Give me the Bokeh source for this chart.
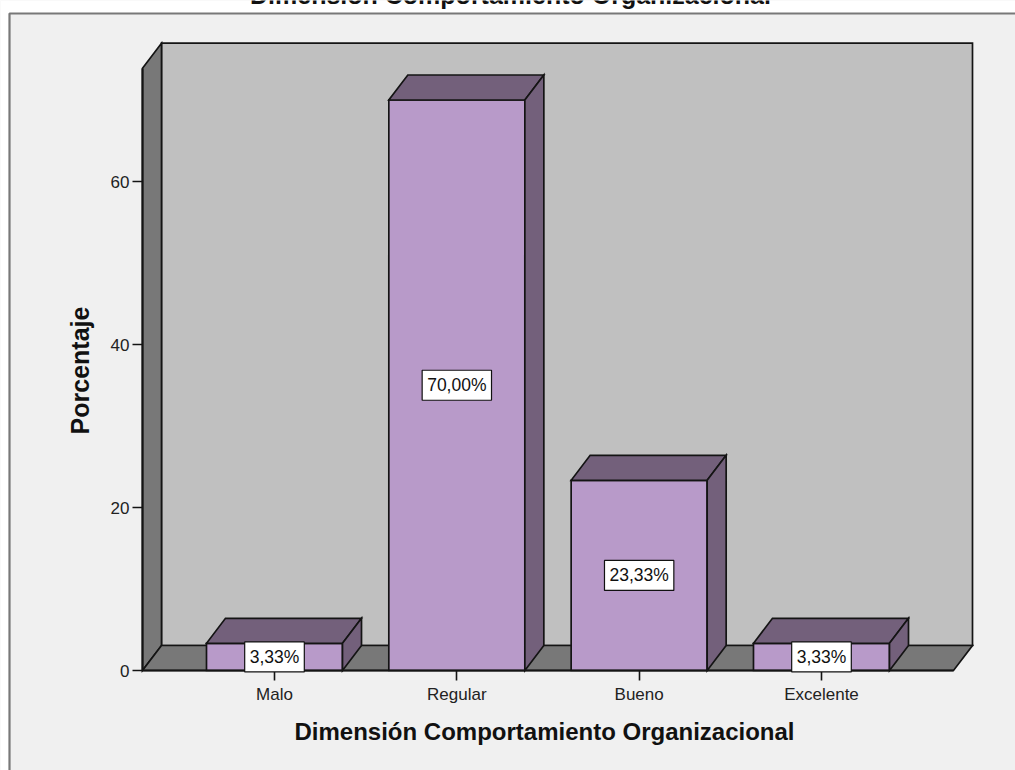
import math
from bokeh.plotting import figure
from bokeh.models import FixedTicker, Label
from bokeh.core.properties import value
from bokeh.embed import file_html
from bokeh.resources import INLINE

# ---- data ----
categories = ["Malo", "Regular", "Bueno", "Excelente"]
percentages = [3.33, 70.00, 23.33, 3.33]
value_labels = ["3,33%", "70,00%", "23,33%", "3,33%"]
y_ticks = [0, 20, 40, 60]
chart_title = "Dimensión Comportamiento Organizacional"
x_title = "Dimensión Comportamiento Organizacional"
y_title = "Porcentaje"

# ---- layout constants (pixels) ----
W, H = 1015, 770
SX = 182.33                            # px per category step
C0 = 274                               # px of first category centre
SY = 8.15                              # px per percent
ZERO_PX = 670                          # px of the 0 baseline
PAD = 0.724                            # floor extends beyond first/last category
WALL_TOP = 73.9                        # axis maximum (front edge of walls)
BAR_W = 0.746
DX = 19 / SX                           # depth offset in data units
DY = 25 / SY


def px_x(px):
    return (px - C0) / SX


def px_y(py):
    return (ZERO_PX - py) / SY


X0, X1 = px_x(0), px_x(W)
Y0, Y1 = px_y(H), px_y(0)

FONT = "Liberation Sans"
FRONT = "#b89ac9"
DARK = "#73607b"
WALL_BACK = "#c0c0c0"
WALL_SIDE = "#787878"
EDGE = "#141414"
PANEL = "#f0f0f0"

p = figure(width=W, height=H, x_range=(X0, X1), y_range=(Y0, Y1),
           min_border=0, toolbar_location=None, output_backend="svg",
           background_fill_color=PANEL, border_fill_color=PANEL,
           outline_line_color=None)
p.xgrid.visible = False
p.ygrid.visible = False

# ---- outer panel: white margin strips and grey frame line ----
p.quad(left=[X0, X0], right=[X1, px_x(9)], bottom=[px_y(13), Y0], top=[Y1, Y1],
       fill_color="white", line_color=None)
p.line(x=[px_x(9), px_x(9), X1 + 1], y=[Y0 - 1, px_y(13), px_y(13)],
       line_color="#787878", line_width=2.2)

# ---- cut-off chart title ----
p.text(x=[px_x(510)], y=[px_y(-6)], text=[chart_title],
       text_align="center", text_baseline="alphabetic",
       text_font=value(FONT), text_font_size="25px", text_font_style="bold",
       text_color="#111111")

# ---- 3D walls ----
n = len(categories)
xl, xr = -PAD, (n - 1) + PAD
wall_xs = [
    [xl + DX, xr + DX, xr + DX, xl + DX],                  # back wall
    [xl, xl + DX, xl + DX, xl],                            # side wall
    [xl, xr, xr + DX, xl + DX],                            # floor
]
wall_ys = [
    [DY, DY, WALL_TOP + DY, WALL_TOP + DY],
    [0, DY, WALL_TOP + DY, WALL_TOP],
    [0, 0, DY, DY],
]
p.patches(wall_xs, wall_ys, fill_color=[WALL_BACK, WALL_SIDE, WALL_SIDE],
          line_color=EDGE, line_width=1.7, line_join="miter")

# ---- 3D bars ----
for i, v in enumerate(percentages):
    a, b = i - BAR_W / 2, i + BAR_W / 2
    xs = [
        [a, b, b, a],
        [a, b, b + DX, a + DX],
        [b, b + DX, b + DX, b],
    ]
    ys = [
        [0, 0, v, v],
        [v, v, v + DY, v + DY],
        [0, DY, v + DY, v],
    ]
    p.patches(xs, ys, fill_color=[FRONT, DARK, DARK],
              line_color=EDGE, line_width=1.7, line_join="miter")
    p.add_layout(Label(x=i, y=v / 2, text=value_labels[i],
                       text_align="center", text_baseline="middle",
                       text_font=FONT, text_font_size="17.5px", text_color="#111111",
                       background_fill_color="white", background_fill_alpha=1.0,
                       border_line_color="#111111", border_line_width=1.2,
                       padding=5))

# ---- axes (placed inside the frame) ----
ya = p.yaxis[0]
ya.ticker = FixedTicker(ticks=y_ticks)
ya.bounds = (0, WALL_TOP)
ya.fixed_location = xl
xa = p.xaxis[0]
xa.ticker = FixedTicker(ticks=list(range(n)))
xa.major_label_overrides = {i: c for i, c in enumerate(categories)}
xa.bounds = (xl, xr)
xa.fixed_location = 0
for ax in (xa, ya):
    ax.axis_line_color = EDGE
    ax.axis_line_width = 2
    ax.major_tick_out = 10
    ax.major_tick_in = 0
    ax.major_tick_line_color = EDGE
    ax.major_tick_line_width = 1.6
    ax.minor_tick_line_color = None
    ax.major_label_text_font = FONT
    ax.major_label_text_font_size = "17px"
    ax.major_label_text_color = "#222222"
ya.major_label_standoff = 3
xa.major_label_standoff = 4

# ---- axis titles ----
p.text(x=[px_x(544)], y=[px_y(731)], text=[x_title],
       text_align="center", text_baseline="alphabetic",
       text_font=value(FONT), text_font_size="24px", text_font_style="bold",
       text_color="#111111")
p.text(x=[px_x(79)], y=[px_y(370)], text=[y_title], angle=math.pi / 2,
       text_align="center", text_baseline="alphabetic",
       text_font=value(FONT), text_font_size="25px", text_font_style="bold",
       text_color="#111111")

open("out.html", "w").write(file_html(p, INLINE))
